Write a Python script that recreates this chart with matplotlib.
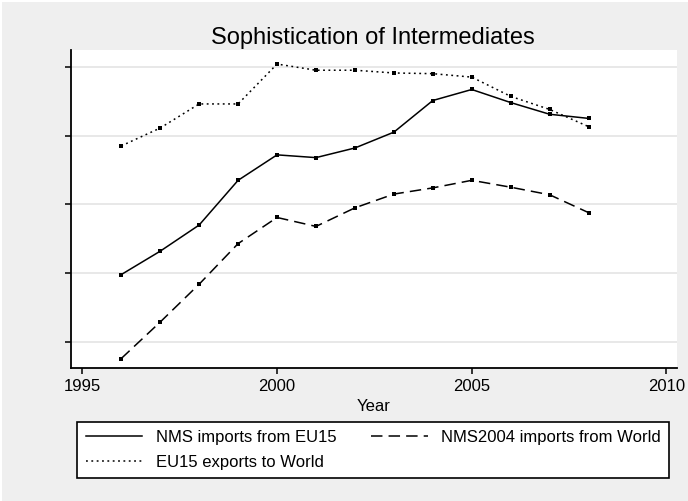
import matplotlib
matplotlib.use("Agg")
import matplotlib.pyplot as plt
from matplotlib.patches import Rectangle

plt.rcParams['font.family'] = ['Liberation Sans', 'DejaVu Sans']

# data (y axis has no labels, units = gridline steps)
years = [1996, 1997, 1998, 1999, 2000, 2001, 2002, 2003, 2004, 2005, 2006, 2007, 2008]
nms_eu15 = [1.98, 2.32, 2.70, 3.35, 3.72, 3.68, 3.82, 4.05, 4.51, 4.67, 4.48, 4.31, 4.25]
nms2004_world = [0.76, 1.29, 1.84, 2.43, 2.81, 2.68, 2.95, 3.15, 3.24, 3.35, 3.25, 3.14, 2.88]
eu15_world = [3.85, 4.11, 4.46, 4.46, 5.04, 4.95, 4.95, 4.91, 4.90, 4.85, 4.57, 4.38, 4.13]
labels = ['NMS imports from EU15', 'NMS2004 imports from World', 'EU15 exports to World']
xticks = [1995, 2000, 2005, 2010]
yticks = [1, 2, 3, 4, 5]

W, H = 688, 501
fig = plt.figure(figsize=(W / 100, H / 100), dpi=100, facecolor='white')
fig.patches.append(Rectangle((2 / W, 0), 1, 1 - 1.5 / H, transform=fig.transFigure,
                             facecolor='#efefef', edgecolor='none', zorder=-10))

ax = fig.add_axes([71 / W, 1 - 368.3 / H, (677 - 71) / W, (368.3 - 50) / H])
ax.set_facecolor('white')

l1, = ax.plot(years, nms_eu15, color='black', lw=1.1, ls='-', zorder=3)
l2, = ax.plot(years, nms2004_world, color='black', lw=1.1, dashes=(7.5, 4), zorder=3)
l3, = ax.plot(years, eu15_world, color='black', lw=1.1, dashes=(1.2, 2.3), zorder=3)
for s in [nms_eu15, nms2004_world, eu15_world]:
    ax.plot(years, s, 's', color='black', ms=2.2, mew=0, zorder=4)

ax.set_xlim(1994.71, 2010.27)
ax.set_ylim(0.618, 5.244)
ax.set_xticks(xticks)
ax.set_yticks(yticks)
ax.set_yticklabels([])
ax.yaxis.grid(True, color='#e6e6e6', lw=1.3)
ax.set_axisbelow(True)
for side in ['top', 'right']:
    ax.spines[side].set_visible(False)
for side in ['left', 'bottom']:
    ax.spines[side].set_linewidth(1.3)
ax.tick_params(axis='both', direction='out', length=4, width=1.1, color='black')
ax.tick_params(axis='x', labelsize=12, pad=4)

ax.set_xlabel('Year', fontsize=12)
ax.xaxis.set_label_coords(0.5, -(406.7 - 368.3) / (368.3 - 50))
ax.xaxis.label.set_va('center')

fig.text(373 / W, 1 - 44 / H, 'Sophistication of Intermediates', fontsize=17,
         ha='center', va='baseline')

leg = fig.legend([l1, l3, l2], [labels[0], labels[2], labels[1]], ncol=2,
                 loc='lower left', mode='expand',
                 bbox_to_anchor=(77.3 / W, 1 - 478.3 / H, (669 - 77.3) / W, (478.3 - 424.3) / H),
                 fontsize=12, frameon=True, fancybox=False, edgecolor='black',
                 facecolor='white', framealpha=1, handlelength=3.4, handletextpad=0.8,
                 labelspacing=0.6, borderpad=0.5, borderaxespad=0, columnspacing=1.5)
leg.get_frame().set_linewidth(1.2)

fig.savefig('out.png', dpi=100, facecolor=fig.get_facecolor())
